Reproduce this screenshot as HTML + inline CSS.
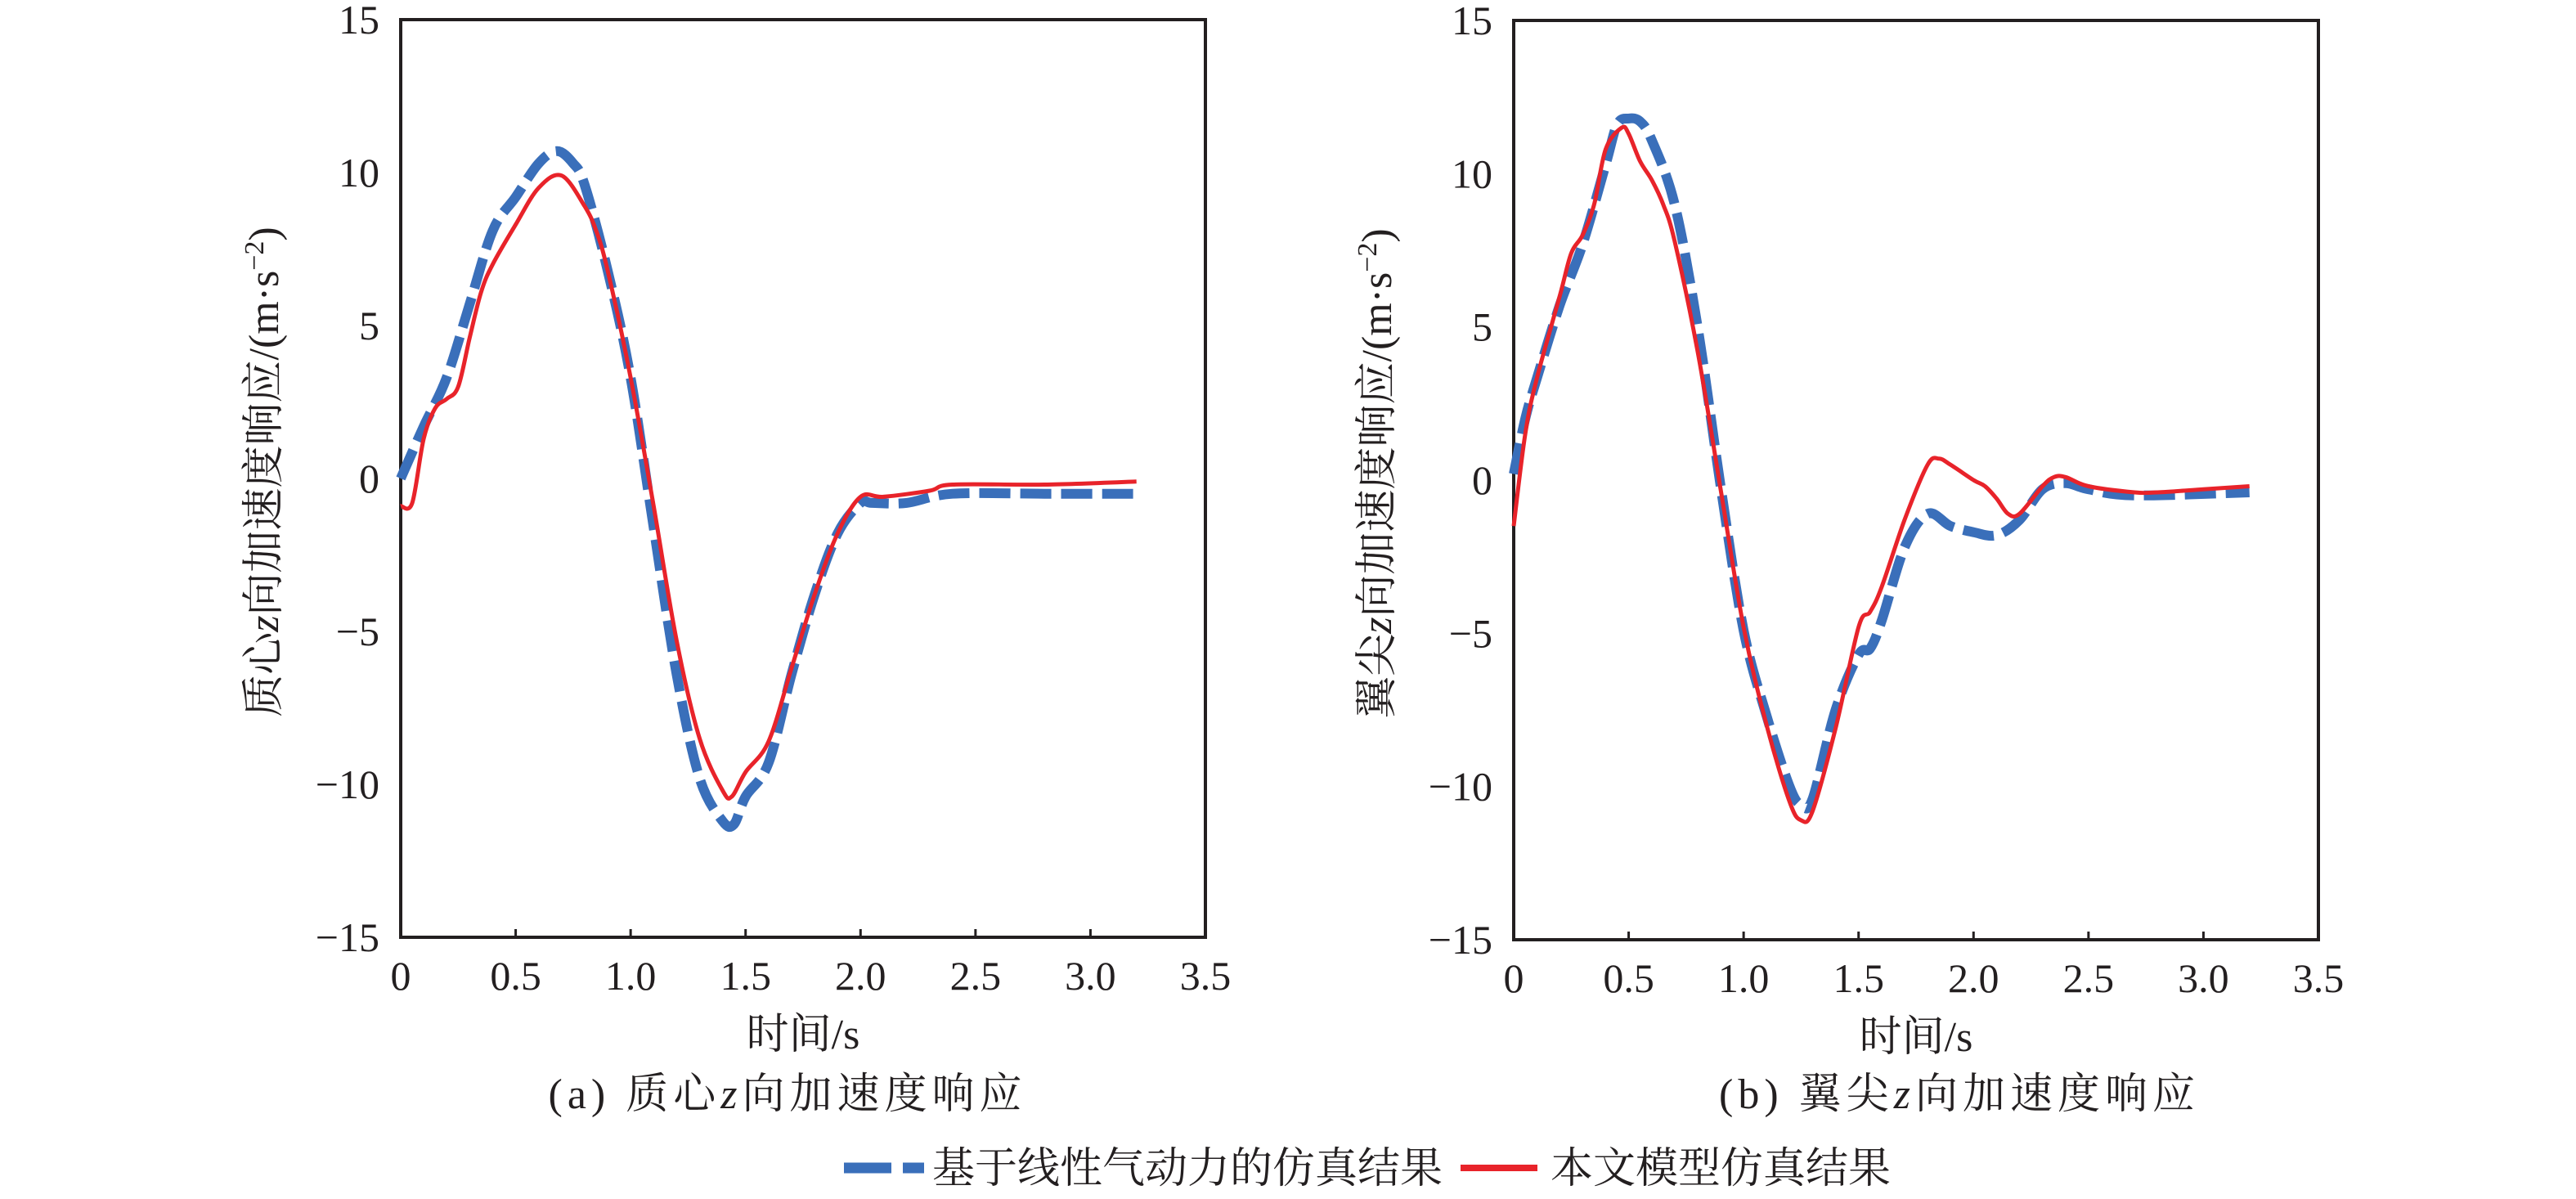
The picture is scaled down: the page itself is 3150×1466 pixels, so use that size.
<!DOCTYPE html>
<html><head><meta charset="utf-8">
<style>
html,body{margin:0;padding:0;background:#fff;}
svg{display:block;}
text{font-family:"Liberation Serif","Noto Serif CJK SC","Noto Sans CJK SC",serif;fill:#231f20;}
</style></head>
<body>
<svg id="chart" width="3150" height="1466" viewBox="0 0 3150 1466" xmlns="http://www.w3.org/2000/svg">
<g id="panelA"></g>
<g id="panelB"></g>
<text x="963" y="1355" font-size="52" letter-spacing="6" text-anchor="middle">(a) 质心<tspan font-style="italic">z</tspan>向加速度响应</text>
<text x="2396" y="1355" font-size="52" letter-spacing="6" text-anchor="middle">(b) 翼尖<tspan font-style="italic">z</tspan>向加速度响应</text>
<g>
<g>
<line x1="1032" y1="1428" x2="1130" y2="1428" stroke="#3a6fba" stroke-width="13" stroke-dasharray="58,14"/>
<text x="1140" y="1446" font-size="52">基于线性气动力的仿真结果</text>
</g>
<g>
<line x1="1786" y1="1428" x2="1880" y2="1428" stroke="#e8232a" stroke-width="8"/>
<text x="1896" y="1446" font-size="52">本文模型仿真结果</text>
</g>
</g>
</svg>
<script>
const xTicks = [0, 0.5, 1.0, 1.5, 2.0, 2.5, 3.0, 3.5];
const xTickLabels = ["0", "0.5", "1.0", "1.5", "2.0", "2.5", "3.0", "3.5"];
const yTicks = [15, 10, 5, 0, -5, -10, -15];
const yTickLabels = ["15", "10", "5", "0", "\u22125", "\u221210", "\u221215"];

const tA_linear = [0,0.1,0.2,0.3,0.4,0.5,0.6,0.68,0.75,0.8,0.9,1.0,1.1,1.2,1.3,1.4,1.45,1.5,1.6,1.7,1.8,1.9,2.0,2.05,2.2,2.4,2.8,3.2];
const vA_linear = [0,1.7,3.3,5.7,8.1,9.2,10.3,10.7,10.3,9.6,6.8,3.3,-1.6,-6.4,-9.8,-11.2,-11.3,-10.4,-9.3,-6.4,-3.8,-1.8,-0.8,-0.8,-0.8,-0.5,-0.5,-0.5];
const tA_model = [0,0.05,0.1,0.15,0.2,0.25,0.3,0.35,0.4,0.5,0.6,0.7,0.8,0.85,0.9,1.0,1.1,1.2,1.3,1.4,1.44,1.5,1.6,1.7,1.8,1.9,2.0,2.1,2.3,2.4,2.8,3.2];
const vA_model = [-0.9,-0.8,1.3,2.3,2.6,3.0,4.6,6.1,7.0,8.3,9.5,9.9,8.9,8.1,6.8,3.3,-0.9,-5.3,-8.5,-10.2,-10.4,-9.6,-8.6,-6.2,-3.8,-1.8,-0.6,-0.6,-0.4,-0.2,-0.2,-0.1];

const tB_linear = [0,0.05,0.1,0.2,0.3,0.4,0.45,0.5,0.55,0.6,0.7,0.8,0.9,1.0,1.1,1.2,1.25,1.3,1.4,1.5,1.55,1.6,1.7,1.8,1.9,2.0,2.1,2.2,2.3,2.4,2.5,2.7,3.2];
const vB_linear = [0.2,2.0,3.3,5.7,7.7,10.3,11.6,11.8,11.7,11.1,9.0,5.0,-0.2,-4.9,-7.7,-10.0,-10.6,-10.4,-7.5,-5.7,-5.5,-4.6,-2.2,-1.1,-1.5,-1.7,-1.8,-1.3,-0.3,-0.1,-0.3,-0.5,-0.4];
const tB_model = [0,0.05,0.1,0.2,0.25,0.3,0.35,0.4,0.47,0.5,0.55,0.6,0.65,0.7,0.8,0.9,1.0,1.1,1.2,1.25,1.3,1.4,1.5,1.55,1.6,1.7,1.8,1.85,1.9,2.0,2.05,2.1,2.15,2.2,2.3,2.35,2.4,2.5,2.7,2.8,3.0,3.2];
const vB_model = [-1.5,1.5,3.3,6.0,7.4,8.0,9.0,10.8,11.5,11.3,10.4,9.8,9.0,7.8,4.2,-0.3,-4.8,-8.0,-10.5,-11.1,-10.8,-8.1,-4.8,-4.3,-3.5,-1.3,0.5,0.7,0.5,0.0,-0.2,-0.6,-1.1,-1.1,-0.2,0.1,0.1,-0.2,-0.4,-0.4,-0.3,-0.2];

const NS = "http://www.w3.org/2000/svg";
function mk(tag, attrs, parent){
  const e = document.createElementNS(NS, tag);
  for (const k in attrs) e.setAttribute(k, attrs[k]);
  parent.appendChild(e);
  return e;
}
function smoothPath(pts){
  let d = "M" + pts[0][0].toFixed(1) + "," + pts[0][1].toFixed(1);
  for (let i = 0; i < pts.length - 1; i++){
    const p0 = pts[i-1] || pts[i], p1 = pts[i], p2 = pts[i+1], p3 = pts[i+2] || p2;
    const c1 = [p1[0] + (p2[0]-p0[0])/6, p1[1] + (p2[1]-p0[1])/6];
    const c2 = [p2[0] - (p3[0]-p1[0])/6, p2[1] - (p3[1]-p1[1])/6];
    d += "C" + c1[0].toFixed(1) + "," + c1[1].toFixed(1) + " " + c2[0].toFixed(1) + "," + c2[1].toFixed(1) + " " + p2[0].toFixed(1) + "," + p2[1].toFixed(1);
  }
  return d;
}
function panel(g, L, R, T, B, ylabel, tL, vL, tM, vM, tag){
  const xs = t => L + (t - 0) / 3.5 * (R - L);
  const ys = v => T + (15 - v) / 30 * (B - T);
  const frame = mk("rect", {x:L, y:T, width:R-L, height:B-T, fill:"none", stroke:"#231f20", "stroke-width":4}, g);
  
  
  xTicks.forEach((t, i) => {
    const x = xs(t);
    const tk = mk("line", {x1:x, y1:B, x2:x, y2:B-10, stroke:"#231f20", "stroke-width":3}, g);
    
    
    const tx = mk("text", {x:x, y:B+64, "font-size":50, "text-anchor":"middle"}, g);
    tx.textContent = xTickLabels[i];
    
    
  });
  yTicks.forEach((v, i) => {
    const y = ys(v);
    const tx = mk("text", {x:L-26, y:y+17, "font-size":50, "text-anchor":"end"}, g);
    tx.textContent = yTickLabels[i];
    
    
  });
  const xt = mk("text", {x:(L+R)/2, y:B+136, "font-size":52, "text-anchor":"middle"}, g);
  xt.textContent = "时间/s";
  
  
  const cy = (T+B)/2 - 8;
  const yt = mk("text", {x:0, y:0, "font-size":52, "text-anchor":"middle", transform:"translate(" + (L-150) + "," + cy + ") rotate(-90)"}, g);
  yt.innerHTML = ylabel;
  
  
  const pl = tL.map((t, i) => [xs(t), ys(vL[i])]);
  const pm = tM.map((t, i) => [xs(t), ys(vM[i])]);
  const l1 = mk("path", {d:smoothPath(pl), fill:"none", stroke:"#3a6fba", "stroke-width":12, "stroke-dasharray":"38,12"}, g);
  
  
  const l2 = mk("path", {d:smoothPath(pm), fill:"none", stroke:"#e8232a", "stroke-width":5}, g);
  
  
}
panel(document.getElementById("panelA"), 490, 1474, 24, 1146,
  '质心<tspan font-style="italic">z</tspan>向加速度响应/(m·s<tspan baseline-shift="super" font-size="34">−2</tspan>)',
  tA_linear, vA_linear, tA_model, vA_model, "panel-a");
panel(document.getElementById("panelB"), 1851, 2835, 25, 1149,
  '翼尖<tspan font-style="italic">z</tspan>向加速度响应/(m·s<tspan baseline-shift="super" font-size="34">−2</tspan>)',
  tB_linear, vB_linear, tB_model, vB_model, "panel-b");
</script>
</body></html>
